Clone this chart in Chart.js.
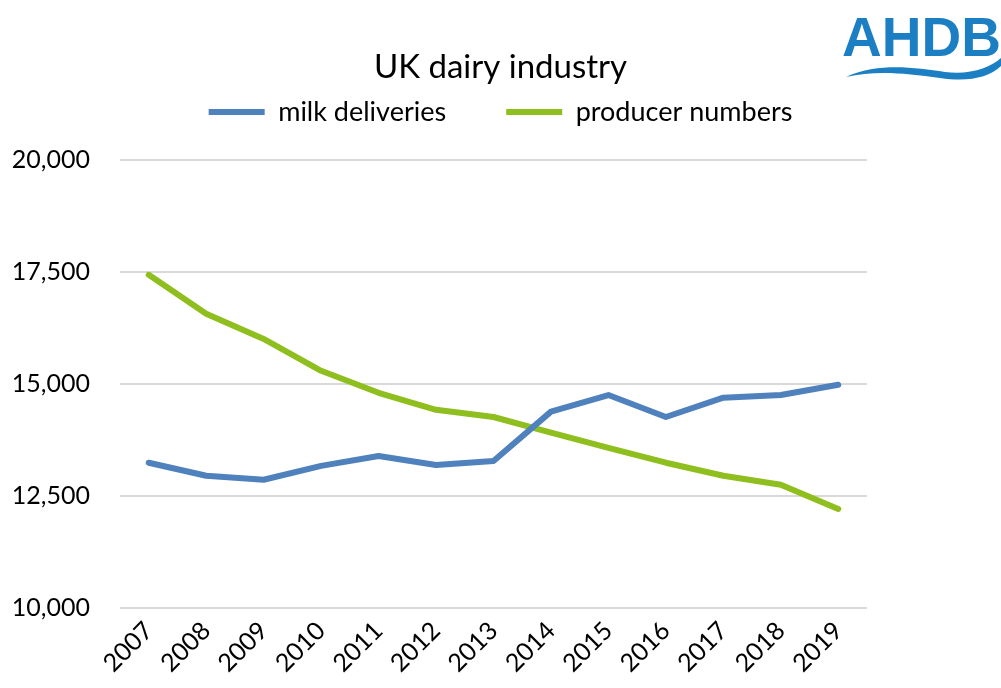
<!DOCTYPE html>
<html>
<head>
<meta charset="utf-8">
<script src="https://cdn.jsdelivr.net/npm/chart.js@4"></script>
<style>
  html, body { margin: 0; padding: 0; background: #fff; }
  #wrap { width: 1001px; height: 688px; }
</style>
</head>
<body>
<div id="wrap"><canvas id="dairyChart" width="1001" height="688"></canvas></div>
<script>
const years = ["2007", "2008", "2009", "2010", "2011", "2012", "2013", "2014", "2015", "2016", "2017", "2018", "2019"];
const milkDeliveries = [13240, 12950, 12860, 13170, 13390, 13190, 13280, 14380, 14750, 14260, 14690, 14750, 14980];
const producerNumbers = [17430, 16560, 16000, 15290, 14800, 14420, 14260, 13910, 13570, 13240, 12950, 12750, 12210];

const font = "Lato";

// AHDB logo in the top right corner
const logo = {
	id: "logo",
	afterDraw(chart) {
		const ctx = chart.ctx;
		ctx.save();
		ctx.fillStyle = "#1c7fc3";
		ctx.font = "bold 55px 'Liberation Sans'";
		ctx.textAlign = "right";
		ctx.textBaseline = "alphabetic";
		ctx.fillText("AHDB", 1001, 56);
		// wave
		ctx.beginPath();
		ctx.moveTo(846, 77);
		ctx.bezierCurveTo(880, 62, 915, 68, 945, 72);
		ctx.bezierCurveTo(970, 75, 990, 68, 1001, 58);
		ctx.lineTo(1001, 66);
		ctx.bezierCurveTo(988, 78, 968, 82, 940, 78);
		ctx.bezierCurveTo(905, 73, 875, 70, 846, 77);
		ctx.closePath();
		ctx.fill();
		ctx.restore();
	},
};

// wide gap between legend items, but keep the legend row where it is
const legendFix = {
	id: "legendFix",
	afterInit(chart) {
		const lg = chart.legend;
		const fit = lg.fit;
		lg.fit = function () {
			fit.call(this);
			this.height = 72;
		};
		lg.draw = function () {
			const c = this.ctx;
			c.save();
			c.translate(0, -49);
			this._draw();
			c.restore();
		};
	},
};

const config = {
	type: "line",
	data: {
		labels: years,
		datasets: [
			{
				label: "milk deliveries",
				data: milkDeliveries,
				borderColor: "#4f81bd",
				backgroundColor: "#4f81bd",
				borderWidth: 6,
				borderCapStyle: "round",
				borderJoinStyle: "round",
				pointRadius: 0,
				tension: 0,
				yAxisID: "y",
			},
			{
				label: "producer numbers",
				data: producerNumbers,
				borderColor: "#8fbf1f",
				backgroundColor: "#8fbf1f",
				borderWidth: 6,
				borderCapStyle: "round",
				borderJoinStyle: "round",
				pointRadius: 0,
				tension: 0,
				yAxisID: "y",
			},
		],
	},
	options: {
		responsive: false,
		maintainAspectRatio: false,
		animation: false,
		plugins: {
			title: {
				display: true,
				text: "UK dairy industry",
				color: "#000",
				font: { family: font, size: 33, weight: "normal" },
				padding: { top: 48, bottom: 0 },
			},
			legend: {
				display: true,
				labels: {
					color: "#000",
					font: { family: font, size: 27 },
					usePointStyle: true,
					pointStyle: "line",
					pointStyleWidth: 56,
					padding: 60,
				},
			},
			tooltip: { enabled: false },
		},
		scales: {
			x: {
				offset: true,
				grid: { display: false, drawTicks: false },
				border: { display: false },
				ticks: {
					color: "#000",
					font: { family: font, size: 25 },
					maxRotation: 45,
					minRotation: 45,
					padding: 8,
				},
				afterFit: (s) => { s.height = 80; },
			},
			y: {
				min: 10000,
				max: 20000,
				grid: { color: "#d9d9d9", lineWidth: 2, drawTicks: false },
				border: { display: false },
				ticks: {
					stepSize: 2500,
					color: "#000",
					font: { family: font, size: 25 },
					padding: 30,
					callback: (v) => v.toLocaleString("en-GB"),
				},
				afterFit: (s) => { s.width = 120; },
			},
			// empty axis that only keeps the right margin
			yRight: {
				position: "right",
				min: 0,
				max: 1,
				grid: { display: false, drawTicks: false },
				border: { display: false },
				ticks: { display: false },
				afterFit: (s) => { s.width = 134; },
			},
		},
	},
	plugins: [logo, legendFix],
};

const ctx = document.getElementById("dairyChart").getContext("2d");
new Chart(ctx, config);
</script>
</body>
</html>
